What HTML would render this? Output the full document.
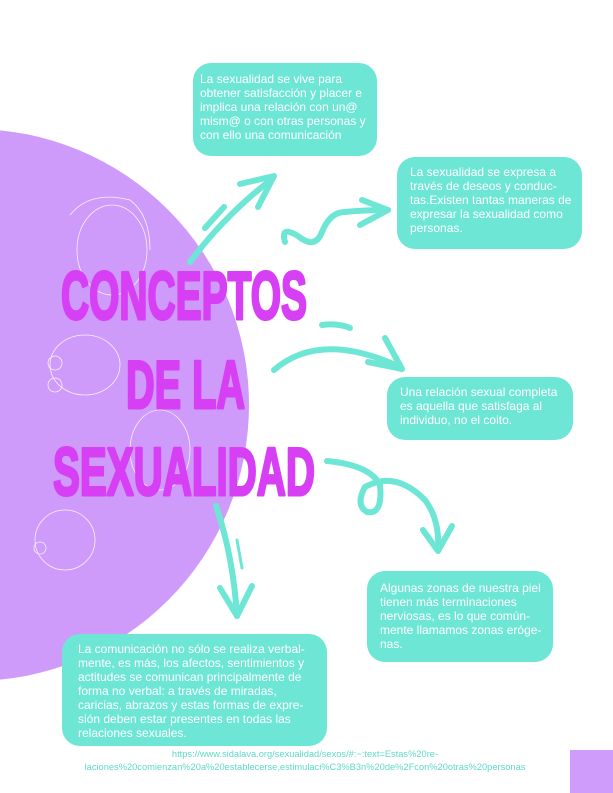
<!DOCTYPE html>
<html><head><meta charset="utf-8"><style>
html,body{margin:0;padding:0;background:#fff;}
body{width:613px;height:793px;position:relative;overflow:hidden;font-family:"Liberation Sans",sans-serif;}
.b{position:absolute;background:#6ee6d5;border-radius:18px;color:#fff;font-size:12px;line-height:14px;box-sizing:border-box;white-space:nowrap;}
.url{position:absolute;left:80px;top:748px;width:450px;text-align:center;color:#5ed9c8;font-size:9.3px;line-height:13px;white-space:nowrap;}
</style></head><body>
<svg width="613" height="793" style="position:absolute;left:0;top:0">
<circle cx="-27" cy="405" r="276" fill="#cf9bfb"/>
<g fill="none" stroke="#fff" stroke-width="0.8" opacity="0.85">
<ellipse cx="112" cy="250" rx="35" ry="45"/><path d="M70 215 Q90 190 130 200 Q150 215 150 250"/>
<ellipse cx="85" cy="365" rx="35" ry="30"/><circle cx="55" cy="363" r="7"/><circle cx="55" cy="385" r="7"/>
<ellipse cx="160" cy="450" rx="30" ry="40"/>
<ellipse cx="65" cy="540" rx="30" ry="30"/><circle cx="40" cy="548" r="6"/>
</g>
<g fill="#d73ff5" stroke="#d73ff5" stroke-width="3" stroke-linejoin="round" font-family="Liberation Sans" font-weight="bold" font-size="68">
<text x="61" y="319" textLength="246" lengthAdjust="spacingAndGlyphs">CONCEPTOS</text>
<text x="126" y="408" textLength="119" lengthAdjust="spacingAndGlyphs">DE LA</text>
<text x="53" y="495" textLength="262" lengthAdjust="spacingAndGlyphs">SEXUALIDAD</text>
</g>
<g fill="none" stroke="#6ee6d5" stroke-width="6" stroke-linecap="round" stroke-linejoin="round">
<path d="M190 262 Q225 215 272 179"/><path d="M240 184 L274 176 L258 207"/><path d="M205 228 L224 207"/>
<path d="M285 242 Q280 225 298 236 Q315 250 322 232 Q330 212 345 212 Q365 210 388 210"/><path d="M362 200 L388 210 L360 225"/>
<path d="M274 370 Q320 330 400 367"/><path d="M368 362 L402 369 L385 338"/><path d="M322 325 Q338 323 350 328"/>
<path d="M327 461 Q370 465 380 485 Q383 515 367 512 Q355 505 365 487 Q395 470 425 500 Q440 520 438 550"/><path d="M423 530 L438 551 L452 526"/>
<path d="M216 506 Q233 555 237 616"/><path d="M220 588 L237 616 L252 586"/><path d="M237 540 L242 568" stroke-width="3"/>
</g>
<rect x="570" y="750" width="43" height="43" fill="#d09cfc"/>
</svg>
<div class="b" style="left:193px;top:63px;width:184px;height:93px;padding:9px 7px;">La sexualidad se vive para<br>obtener satisfacción y placer e<br>implica una relación con un@<br>mism@ o con otras personas y<br>con ello una comunicación</div>
<div class="b" style="left:397px;top:157px;width:185px;height:92px;padding:8px 13px;">La sexualidad se expresa a<br>través de deseos y conduc-<br>tas.Existen tantas maneras de<br>expresar la sexualidad como<br>personas.</div>
<div class="b" style="left:387px;top:377px;width:186px;height:63px;padding:8px 13px;">Una relación sexual completa<br>es aquella que satisfaga al<br>individuo, no el coito.</div>
<div class="b" style="left:367px;top:571px;width:186px;height:91px;padding:10px 13px;">Algunas zonas de nuestra piel<br>tienen más terminaciones<br>nerviosas, es lo que común-<br>mente llamamos zonas erógе-<br>nas.</div>
<div class="b" style="left:62px;top:634px;width:265px;height:112px;padding:8px 16px;">La comunicación no sólo se realiza verbal-<br>mente, es más, los afectos, sentimientos y<br>actitudes se comunican principalmente de<br>forma no verbal: a través de miradas,<br>caricias, abrazos y estas formas de expre-<br>sión deben estar presentes en todas las<br>relaciones sexuales.</div>
<div class="url">https://www.sidalava.org/sexualidad/sexos/#:~:text=Estas%20re-<br>laciones%20comienzan%20a%20establecerse,estimulaci%C3%B3n%20de%2Fcon%20otras%20personas</div>
</body></html>
